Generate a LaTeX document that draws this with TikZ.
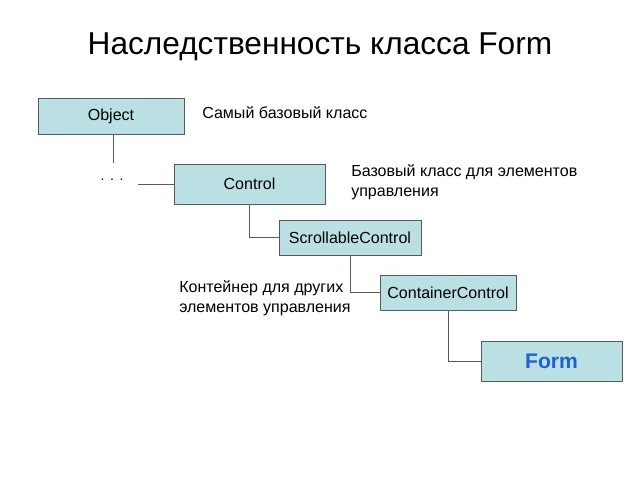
\documentclass[tikz,border=0pt]{standalone}
\usepackage{fontspec}
\setmainfont{Liberation Sans}
\usepackage{tikz}
\usetikzlibrary{positioning,calc}
\usepackage{xcolor}

\definecolor{boxfill}{RGB}{186,224,227}
\definecolor{boxline}{RGB}{90,90,90}
\definecolor{formblue}{RGB}{30,95,215}

\tikzset{
    classbox/.style={draw=boxline, fill=boxfill, line width=0.6pt, inner sep=0pt, font=\fontsize{11.4}{13}\selectfont},
    note/.style={anchor=west, align=left, inner sep=0pt, font=\fontsize{11.4}{14}\selectfont},
    link/.style={draw=boxline, line width=0.6pt}
}

\begin{document}
\begin{tikzpicture}[x=0.025cm, y=-0.025cm]

    \useasboundingbox (0,0) rectangle (640,480);

    % =========================================================================
    % Title
    % =========================================================================
    \node[font=\fontsize{22.5}{26}\selectfont] (title) at (320,47) {Наследственность класса Form};

    % =========================================================================
    % Class boxes
    % =========================================================================
    \node[classbox, minimum width=3.65cm, minimum height=0.9cm] (obj) at (111,116) {Object};
    \node[classbox, minimum width=3.775cm, minimum height=1.0cm] (ctrl) at (249.5,184) {Control};
    \node[classbox, minimum width=3.55cm, minimum height=0.875cm] (scroll) at (350,237.5) {ScrollableControl};
    \node[classbox, minimum width=3.4cm, minimum height=0.875cm] (cont) at (448,292.5) {ContainerControl};
    \node[classbox, minimum width=3.525cm, minimum height=1.0cm, font=\fontsize{15}{18}\selectfont\bfseries, text=formblue] (form) at (551.5,361) {Form};

    % Gap in the chain
    \node[font=\fontsize{10}{12}\selectfont] (dots) at (112,180) {.\hspace{4pt}.\hspace{4pt}.};
    \coordinate (objend) at (113,163);
    \coordinate (ctrlin) at (138,184);

    % =========================================================================
    % Connectors
    % =========================================================================
    \draw[link] (obj.south -| objend) -- (objend);
    \draw[link] (ctrlin) -- (ctrl.west);
    \draw[link] (ctrl.south) |- (scroll.west);
    \draw[link] (scroll.south) |- (cont.west);
    \draw[link] (cont.south) |- (form.west);

    % =========================================================================
    % Notes
    % =========================================================================
    \node[note] (n1) at (202,113) {Самый базовый класс};
    \node[note] (n2) at (351,182.5) {Базовый класс для элементов\\управления};
    \node[note] (n3) at (179,298) {Контейнер для других\\элементов управления};

\end{tikzpicture}
\end{document}
